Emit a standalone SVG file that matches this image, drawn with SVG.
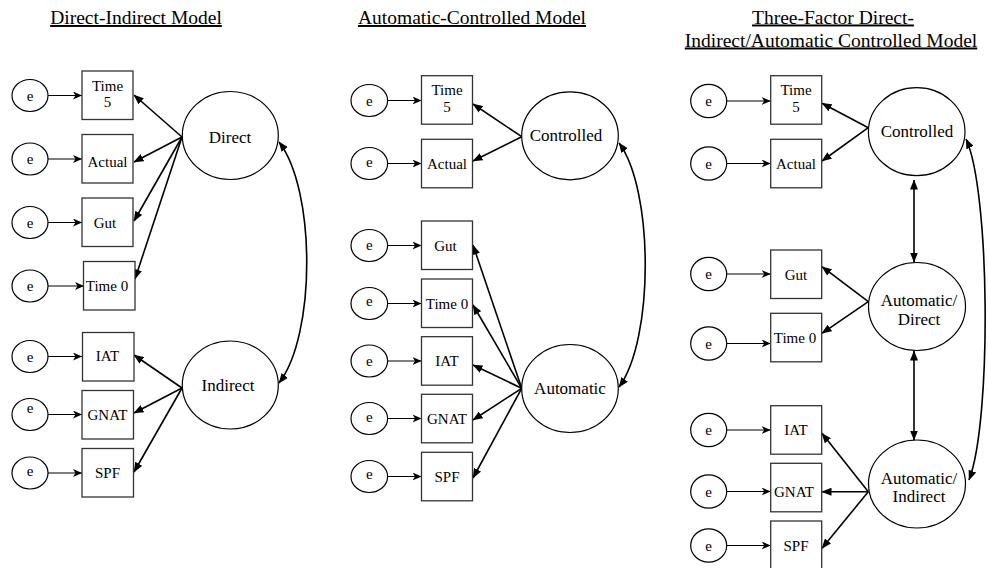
<svg xmlns="http://www.w3.org/2000/svg" width="988" height="568" viewBox="0 0 988 568" font-family="'Liberation Serif', 'Times New Roman', 'DejaVu Serif', serif">
<defs>
<style>
text{font-family:'Liberation Serif','Times New Roman','DejaVu Serif',serif;fill:#000;text-anchor:middle}
.t{font-size:19.5px;text-decoration:underline}
.b{font-size:15px}
.l{font-size:17px}
.e{font-size:15px}
.box{fill:#fff;stroke:#333;stroke-width:1.3}
.ell{fill:#fff;stroke:#000;stroke-width:1.2}
.ea{stroke:#000;stroke-width:1.2;fill:none;marker-end:url(#n)}
.ld{stroke:#000;stroke-width:1.6;fill:none;marker-end:url(#f)}
.dbl{stroke:#000;stroke-width:1.6;fill:none;marker-start:url(#f);marker-end:url(#f)}
</style>
<marker id="f" viewBox="0 0 10 8" refX="9.5" refY="4" markerWidth="10" markerHeight="8" markerUnits="userSpaceOnUse" orient="auto-start-reverse"><path d="M0,0 L10,4 L0,8 z" fill="#000"/></marker>
<marker id="n" viewBox="0 0 9 8" refX="9" refY="4" markerWidth="9" markerHeight="8" markerUnits="userSpaceOnUse" orient="auto"><path d="M0,0 L9,4 L0,8 L2.5,4 z" fill="#000"/></marker>
</defs>
<rect width="988" height="568" fill="#fff"/>

<g id="titles">
<text class="t" x="136" y="24">Direct-Indirect Model</text>
<text class="t" x="472" y="24">Automatic-Controlled Model</text>
<text class="t" x="833" y="23.5">Three-Factor Direct-</text>
<text class="t" x="831" y="46.5">Indirect/Automatic Controlled Model</text>
</g>

<g id="connectors">
<line class="ea" x1="48" y1="95.5" x2="82" y2="95.5"/>
<line class="ea" x1="48" y1="159" x2="82" y2="159"/>
<line class="ea" x1="48" y1="222.5" x2="82" y2="222.5"/>
<line class="ea" x1="48" y1="286" x2="84" y2="286"/>
<line class="ea" x1="48" y1="356.5" x2="82" y2="356.5"/>
<line class="ea" x1="48" y1="414.5" x2="82" y2="414.5"/>
<line class="ea" x1="48" y1="473" x2="82" y2="473"/>
<line class="ld" x1="182" y1="137" x2="134" y2="95"/>
<line class="ld" x1="182" y1="137" x2="134" y2="162"/>
<line class="ld" x1="182" y1="137" x2="134" y2="221"/>
<line class="ld" x1="182" y1="137" x2="135" y2="279"/>
<line class="ld" x1="182" y1="388" x2="134" y2="355"/>
<line class="ld" x1="182" y1="388" x2="134" y2="413"/>
<line class="ld" x1="182" y1="388" x2="134" y2="472"/>
<path class="dbl" d="M279,142 C316,190 316,335 279,383"/>

<line class="ea" x1="387.5" y1="100.5" x2="421.5" y2="100.5"/>
<line class="ea" x1="387.5" y1="163.5" x2="421.5" y2="163.5"/>
<line class="ea" x1="387.5" y1="245.5" x2="421.5" y2="245.5"/>
<line class="ea" x1="387.5" y1="303.5" x2="421.5" y2="303.5"/>
<line class="ea" x1="387.5" y1="361" x2="421.5" y2="361"/>
<line class="ea" x1="387.5" y1="418.5" x2="421.5" y2="418.5"/>
<line class="ea" x1="387.5" y1="476.5" x2="421.5" y2="476.5"/>
<line class="ld" x1="521.7" y1="136.7" x2="473" y2="104"/>
<line class="ld" x1="521.7" y1="136.7" x2="473" y2="161"/>
<line class="ld" x1="521.7" y1="388.3" x2="473" y2="245"/>
<line class="ld" x1="521.7" y1="388.3" x2="473" y2="305"/>
<line class="ld" x1="521.7" y1="388.3" x2="473" y2="365"/>
<line class="ld" x1="521.7" y1="388.3" x2="473" y2="420"/>
<line class="ld" x1="521.7" y1="388.3" x2="473" y2="478"/>
<path class="dbl" d="M619,143 C654,190 654,340 619,387"/>

<line class="ea" x1="726.7" y1="101" x2="770.7" y2="101"/>
<line class="ea" x1="726.7" y1="163.5" x2="770.7" y2="163.5"/>
<line class="ea" x1="726.7" y1="274" x2="770.7" y2="274"/>
<line class="ea" x1="726.7" y1="343.5" x2="770.7" y2="343.5"/>
<line class="ea" x1="726.7" y1="430" x2="770.7" y2="430"/>
<line class="ea" x1="726.7" y1="491.5" x2="770.7" y2="491.5"/>
<line class="ea" x1="726.7" y1="545.5" x2="770.7" y2="545.5"/>
<line class="ld" x1="868.3" y1="127.7" x2="822" y2="103.3"/>
<line class="ld" x1="868.3" y1="127.7" x2="822" y2="161"/>
<line class="ld" x1="868.3" y1="301.7" x2="822" y2="266.7"/>
<line class="ld" x1="868.3" y1="301.7" x2="822" y2="333.3"/>
<line class="ld" x1="868.3" y1="491.7" x2="822" y2="433.3"/>
<line class="ld" x1="868.3" y1="491.7" x2="822" y2="491.7"/>
<line class="ld" x1="868.3" y1="491.7" x2="822" y2="548.3"/>
<line class="dbl" x1="914" y1="180" x2="914" y2="262"/>
<line class="dbl" x1="914" y1="351" x2="914" y2="440"/>
<path class="dbl" d="M966,139 C990,190 992,420 969,480"/>
</g>

<g id="p1-e1"><ellipse class="ell" cx="30" cy="95.5" rx="18" ry="16"/><text class="e" x="30" y="100.5">e</text></g>
<g id="p1-e2"><ellipse class="ell" cx="30" cy="159" rx="18" ry="16"/><text class="e" x="30" y="164">e</text></g>
<g id="p1-e3"><ellipse class="ell" cx="30" cy="222.5" rx="18" ry="16"/><text class="e" x="30" y="227.5">e</text></g>
<g id="p1-e4"><ellipse class="ell" cx="30" cy="286" rx="18" ry="16"/><text class="e" x="30" y="291">e</text></g>
<g id="p1-e5"><ellipse class="ell" cx="30" cy="356.5" rx="18" ry="16"/><text class="e" x="30" y="361.5">e</text></g>
<g id="p1-e6"><ellipse class="ell" cx="30" cy="414.5" rx="18" ry="16"/><text class="e" x="30" y="413">e</text></g>
<g id="p1-e7"><ellipse class="ell" cx="30" cy="473" rx="18" ry="16"/><text class="e" x="30" y="476">e</text></g>

<g id="p1-time5"><rect class="box" x="82" y="71" width="51" height="48.5"/><text class="b" x="107.5" y="90.5">Time</text><text class="b" x="107.5" y="107">5</text></g>
<g id="p1-actual"><rect class="box" x="82" y="134.5" width="51" height="48.5"/><text class="b" x="107.5" y="166.5">Actual</text></g>
<g id="p1-gut"><rect class="box" x="82" y="198" width="51" height="48.5"/><text class="b" x="105" y="228">Gut</text></g>
<g id="p1-time0"><rect class="box" x="83.5" y="261.5" width="51.5" height="48.5"/><text class="b" x="107" y="290.5">Time 0</text></g>
<g id="p1-iat"><rect class="box" x="82.5" y="332.5" width="51.5" height="48.5"/><text class="b" x="107.5" y="361">IAT</text></g>
<g id="p1-gnat"><rect class="box" x="82" y="390.5" width="51.5" height="48.5"/><text class="b" x="107.5" y="419.5">GNAT</text></g>
<g id="p1-spf"><rect class="box" x="82" y="448.5" width="51.5" height="48.5"/><text class="b" x="107.5" y="478">SPF</text></g>

<g id="p1-direct"><ellipse class="ell" cx="230.3" cy="135.5" rx="48" ry="44"/><text class="l" x="230" y="143">Direct</text></g>
<g id="p1-indirect"><ellipse class="ell" cx="230.3" cy="385" rx="48" ry="44"/><text class="l" x="228" y="391">Indirect</text></g>

<g id="p2-e1"><ellipse class="ell" cx="369.3" cy="100.5" rx="18.3" ry="16"/><text class="e" x="369.3" y="105.5">e</text></g>
<g id="p2-e2"><ellipse class="ell" cx="369.3" cy="163.5" rx="18.3" ry="16"/><text class="e" x="369.3" y="166.5">e</text></g>
<g id="p2-e3"><ellipse class="ell" cx="369.3" cy="245.5" rx="18.3" ry="16"/><text class="e" x="369.3" y="250">e</text></g>
<g id="p2-e4"><ellipse class="ell" cx="369.3" cy="303.5" rx="18.3" ry="16"/><text class="e" x="369.3" y="306">e</text></g>
<g id="p2-e5"><ellipse class="ell" cx="369.3" cy="361" rx="18.3" ry="16"/><text class="e" x="369.3" y="366">e</text></g>
<g id="p2-e6"><ellipse class="ell" cx="369.3" cy="418.5" rx="18.3" ry="16"/><text class="e" x="369.3" y="421.5">e</text></g>
<g id="p2-e7"><ellipse class="ell" cx="369.3" cy="476.5" rx="18.3" ry="16"/><text class="e" x="369.3" y="479">e</text></g>

<g id="p2-time5"><rect class="box" x="421.5" y="75.7" width="51" height="48.5"/><text class="b" x="447" y="95">Time</text><text class="b" x="447" y="111.5">5</text></g>
<g id="p2-actual"><rect class="box" x="421.5" y="139.3" width="51" height="48.5"/><text class="b" x="447" y="168.5">Actual</text></g>
<g id="p2-gut"><rect class="box" x="421.5" y="221" width="51" height="48.5"/><text class="b" x="445.5" y="250.5">Gut</text></g>
<g id="p2-time0"><rect class="box" x="421.5" y="279" width="51" height="48.5"/><text class="b" x="447" y="309">Time 0</text></g>
<g id="p2-iat"><rect class="box" x="421.5" y="336.7" width="51" height="48.5"/><text class="b" x="447" y="365.5">IAT</text></g>
<g id="p2-gnat"><rect class="box" x="421.5" y="394.3" width="51" height="48.5"/><text class="b" x="447" y="423.5">GNAT</text></g>
<g id="p2-spf"><rect class="box" x="421.5" y="452.3" width="51" height="48.5"/><text class="b" x="447" y="481.5">SPF</text></g>

<g id="p2-controlled"><ellipse class="ell" cx="570" cy="135.8" rx="48.3" ry="44"/><text class="l" x="566" y="140.5">Controlled</text></g>
<g id="p2-automatic"><ellipse class="ell" cx="570" cy="388.5" rx="48.3" ry="44"/><text class="l" x="570" y="393.5">Automatic</text></g>

<g id="p3-e1"><ellipse class="ell" cx="708.7" cy="101" rx="18" ry="16.7"/><text class="e" x="708.7" y="106">e</text></g>
<g id="p3-e2"><ellipse class="ell" cx="708.7" cy="163.5" rx="18" ry="16.7"/><text class="e" x="708.7" y="168.5">e</text></g>
<g id="p3-e3"><ellipse class="ell" cx="708.7" cy="274" rx="18" ry="16.7"/><text class="e" x="708.7" y="279">e</text></g>
<g id="p3-e4"><ellipse class="ell" cx="708.7" cy="343.5" rx="18" ry="16.7"/><text class="e" x="708.7" y="348.5">e</text></g>
<g id="p3-e5"><ellipse class="ell" cx="708.7" cy="430" rx="18" ry="16.7"/><text class="e" x="708.7" y="435">e</text></g>
<g id="p3-e6"><ellipse class="ell" cx="708.7" cy="491.5" rx="18" ry="16.7"/><text class="e" x="708.7" y="496.5">e</text></g>
<g id="p3-e7"><ellipse class="ell" cx="708.7" cy="545.5" rx="18" ry="16.7"/><text class="e" x="708.7" y="550.5">e</text></g>

<g id="p3-time5"><rect class="box" x="770.7" y="75.7" width="51" height="48.5"/><text class="b" x="796" y="95">Time</text><text class="b" x="796" y="111.5">5</text></g>
<g id="p3-actual"><rect class="box" x="770.7" y="139.3" width="51" height="48.5"/><text class="b" x="796" y="168.5">Actual</text></g>
<g id="p3-gut"><rect class="box" x="770.7" y="250" width="51" height="48.5"/><text class="b" x="796" y="279.5">Gut</text></g>
<g id="p3-time0"><rect class="box" x="770.7" y="313.3" width="51" height="48.5"/><text class="b" x="795" y="342.5">Time 0</text></g>
<g id="p3-iat"><rect class="box" x="770.7" y="405.7" width="51" height="48.5"/><text class="b" x="796" y="435">IAT</text></g>
<g id="p3-gnat"><rect class="box" x="770.7" y="463.3" width="51" height="48.5"/><text class="b" x="794" y="496.5">GNAT</text></g>
<g id="p3-spf"><rect class="box" x="770.7" y="521" width="51" height="48.5"/><text class="b" x="796" y="551">SPF</text></g>

<g id="p3-controlled"><ellipse class="ell" cx="916.7" cy="131.7" rx="48.3" ry="44"/><text class="l" x="917" y="136.7">Controlled</text></g>
<g id="p3-autodirect"><ellipse class="ell" cx="917" cy="306.5" rx="48.5" ry="44"/><text class="l" x="919" y="306">Automatic/</text><text class="l" x="919" y="325">Direct</text></g>
<g id="p3-autoindirect"><ellipse class="ell" cx="917" cy="484" rx="48.5" ry="44"/><text class="l" x="919" y="483.5">Automatic/</text><text class="l" x="919" y="502">Indirect</text></g>
</svg>
